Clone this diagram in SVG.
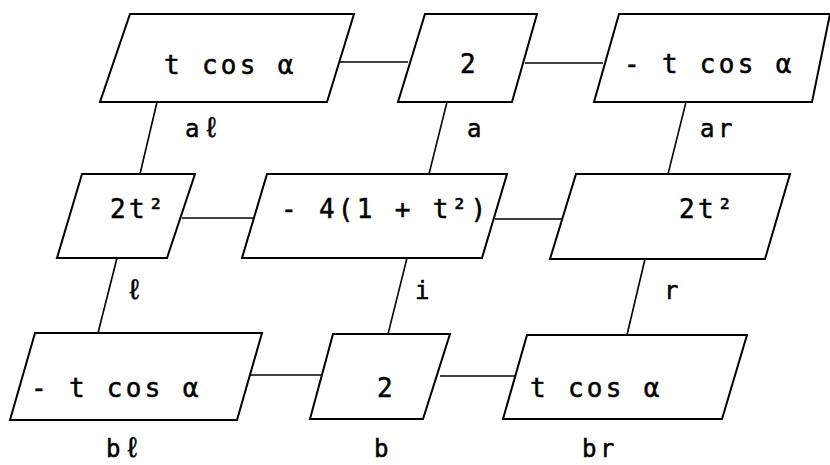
<svg xmlns="http://www.w3.org/2000/svg" width="830" height="465" viewBox="0 0 830 465">
<style>
.box{fill:#fff;stroke:#000;stroke-width:2;stroke-linejoin:miter}
.con{stroke:#000;stroke-width:1.6;fill:none}
.t{font-family:"DejaVu Sans Mono","Liberation Mono",monospace;font-size:26px;letter-spacing:3.3px;fill:#000;stroke:#000;stroke-width:0.5px}
.l{font-family:"DejaVu Sans Mono","Liberation Mono",monospace;font-size:24px;letter-spacing:3.5px;fill:#000;stroke:#000;stroke-width:0.5px}
.ell{font-size:28px}
</style>
<rect width="830" height="465" fill="#fff"/>
<g id="connectors">
<line class="con" x1="339" y1="62" x2="408" y2="62"/>
<line class="con" x1="525" y1="63" x2="603" y2="63"/>
<line class="con" x1="182" y1="218" x2="255" y2="218"/>
<line class="con" x1="495" y1="219" x2="562" y2="219"/>
<line class="con" x1="250" y1="375" x2="322" y2="375"/>
<line class="con" x1="440" y1="376" x2="515" y2="376"/>
<line class="con" x1="157" y1="102" x2="140" y2="174"/>
<line class="con" x1="447" y1="102" x2="429" y2="174"/>
<line class="con" x1="686" y1="102" x2="668" y2="174"/>
<line class="con" x1="117" y1="258" x2="98" y2="333"/>
<line class="con" x1="407" y1="258" x2="388" y2="334"/>
<line class="con" x1="645" y1="259" x2="627" y2="335"/>
</g>
<g id="al">
<polygon class="box" points="130,14 354,14 327,102 100,102"/>
<text class="t" x="164" y="74">t cos α</text>
<text class="l" x="185" y="137">a<tspan class="ell">ℓ</tspan></text>
</g>
<g id="a">
<polygon class="box" points="425,14 537,14 512,102 398,102"/>
<text class="t" x="460" y="73">2</text>
<text class="l" x="467" y="137">a</text>
</g>
<g id="ar">
<polygon class="box" points="619,14 830,14 812,102 594,102"/>
<text class="t" x="624" y="73">- t cos α</text>
<text class="l" x="700" y="137">ar</text>
</g>
<g id="l">
<polygon class="box" points="82,174 195,174 167,258 57,258"/>
<text class="t" x="110" y="218">2t²</text>
<text class="l" x="126" y="299"><tspan class="ell">ℓ</tspan></text>
</g>
<g id="i">
<polygon class="box" points="267,174 507,174 482,258 242,258"/>
<text class="t" x="281" y="218">- 4(1 + t²)</text>
<text class="l" x="415" y="299">i</text>
</g>
<g id="r">
<polygon class="box" points="576,174 790,174 765,259 550,259"/>
<text class="t" x="679" y="218">2t²</text>
<text class="l" x="664" y="299">r</text>
</g>
<g id="bl">
<polygon class="box" points="35,333 262,333 237,420 10,420"/>
<text class="t" x="31" y="397">- t cos α</text>
<text class="l" x="106" y="457">b<tspan class="ell">ℓ</tspan></text>
</g>
<g id="b">
<polygon class="box" points="333,334 450,334 423,419 310,419"/>
<text class="t" x="377" y="397">2</text>
<text class="l" x="374" y="457">b</text>
</g>
<g id="br">
<polygon class="box" points="527,335 747,335 722,419 503,419"/>
<text class="t" x="530" y="397">t cos α</text>
<text class="l" x="582" y="457">br</text>
</g>
</svg>
